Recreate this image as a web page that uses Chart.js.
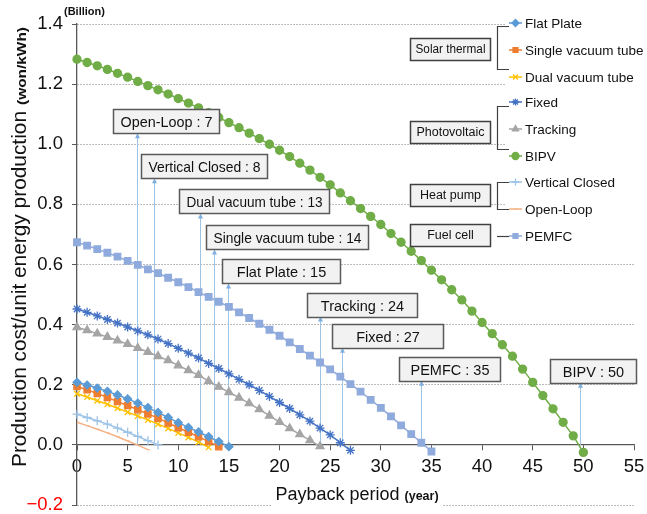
<!DOCTYPE html>
<html><head><meta charset="utf-8">
<script src="https://cdn.jsdelivr.net/npm/chart.js@4.4.0/dist/chart.umd.min.js"></script>
<style>html,body{margin:0;padding:0;background:#fff;}#wrap{width:647px;height:514px;}</style>
</head><body><div id="wrap"><canvas id="c" width="647" height="514"></canvas></div>
<script>
// ---- data ----
const seriesNames = ['Flat Plate','Single vacuum tube','Dual vacuum tube','Fixed','Tracking','BIPV','Vertical Closed','Open-Loop','PEMFC'];
const flatPlate = [0.208,0.199,0.189,0.178,0.166,0.153,0.139,0.124,0.108,0.091,0.074,0.058,0.043,0.027,0.011,-0.006];
const singleVac = [0.194,0.183,0.171,0.158,0.144,0.131,0.117,0.103,0.089,0.073,0.057,0.042,0.027,0.011,-0.006];
const dualVac = [0.170,0.159,0.147,0.135,0.122,0.109,0.096,0.083,0.069,0.055,0.040,0.025,0.009,-0.008];
const fixedPV = [0.452,0.441,0.429,0.417,0.405,0.392,0.379,0.366,0.352,0.337,0.321,0.305,0.289,0.271,0.254,0.236,0.218,0.200,0.181,0.161,0.141,0.121,0.100,0.079,0.056,0.033,0.007,-0.018];
const trackingPV = [0.391,0.381,0.370,0.359,0.347,0.335,0.322,0.309,0.295,0.281,0.264,0.248,0.232,0.212,0.193,0.175,0.157,0.138,0.118,0.097,0.076,0.055,0.035,0.015,-0.005];
const bipv = [1.283,1.272,1.261,1.249,1.236,1.223,1.209,1.195,1.181,1.167,1.152,1.137,1.121,1.105,1.089,1.072,1.055,1.037,1.019,1.000,0.980,0.959,0.937,0.914,0.890,0.865,0.838,0.812,0.786,0.760,0.733,0.703,0.674,0.644,0.613,0.581,0.549,0.516,0.482,0.445,0.407,0.370,0.333,0.295,0.252,0.208,0.164,0.120,0.075,0.030,-0.025];
const verticalClosed = [0.102,0.091,0.080,0.069,0.056,0.042,0.028,0.014,0.000];
const openLoop = [0.075,0.064,0.052,0.040,0.027,0.013,-0.001,-0.016];
const pemfc = [0.674,0.663,0.651,0.639,0.626,0.612,0.599,0.584,0.571,0.556,0.541,0.525,0.508,0.492,0.476,0.459,0.441,0.422,0.403,0.383,0.363,0.341,0.319,0.297,0.274,0.251,0.227,0.202,0.177,0.150,0.123,0.095,0.065,0.036,0.007,-0.022];
const xTicks = [0,5,10,15,20,25,30,35,40,45,50,55];
const yTicks = [-0.2,0,0.2,0.4,0.6,0.8,1.0,1.2,1.4];
// callouts: text, year where the arrow stands, value at arrow tip
const calloutText = ['Open-Loop : 7','Vertical Closed : 8','Dual vacuum tube : 13','Single vacuum tube : 14','Flat Plate : 15','Tracking : 24','Fixed : 27','PEMFC : 35','BIPV : 50'];
const calloutYear = [5.9,7.6,12.15,13.55,14.9,24.0,26.2,34.0,49.7];
const calloutTip = [1.037,0.887,0.770,0.650,0.537,0.427,0.323,0.213,0.207];
const groupNames = ['Solar thermal','Photovoltaic','Heat pump','Fuel cell'];

// ---- styles ----
const seriesColors = ['#5B9BD5','#ED7D31','#FFC000','#4472C4','#A5A5A5','#70AD47','#9DC3E6','#F4B183','#8FAADC'];
const seriesPoint = ['rectRot','rect','crossRot','star','triangle','circle','cross','dash','rect'];
const seriesRadius = [4,4.4,4,4.5,4.6,4,4.5,2,4.6];
const FONT = "'Liberation Sans', Arial, sans-serif";
// callout box geometry (px): offset of box left from arrow, width
const calloutBox = [[24,106],[13,126],[21,150],[8,162],[6,118],[13,110],[10,111],[22,101],[30,86]];
const legendRowsY = [23,50,77,102,129,156,182,209,236];
const groupBoxes = [{y:38,b:[26,69]},{y:121,b:[106,149]},{y:184,b:[182,209]},{y:224,b:null}];

const seriesData = [flatPlate,singleVac,dualVac,fixedPV,trackingPV,bipv,verticalClosed,openLoop,pemfc];
const datasets = seriesData.map((arr,i)=>({
  label: seriesNames[i],
  data: arr.map((v,k)=>({x:k,y:v})),
  borderColor: seriesColors[i], backgroundColor: seriesColors[i],
  borderWidth: 1.5, pointStyle: seriesPoint[i], pointRadius: seriesRadius[i],
  pointBorderWidth: 1.3, tension: 0, clip: false
}));

function drawMarker(ctx, style, r, x, y, color){
  ctx.save();
  ctx.fillStyle = color; ctx.strokeStyle = color; ctx.lineWidth = 1.3;
  if (Chart.helpers && Chart.helpers.drawPoint) {
    Chart.helpers.drawPoint(ctx, {pointStyle: style, radius: r, borderWidth: 1.3, rotation: 0}, x, y);
  } else {
    ctx.beginPath(); ctx.arc(x,y,r,0,Math.PI*2); ctx.fill();
  }
  ctx.restore();
}

function fitText(ctx, text, x, y, target){
  const w = ctx.measureText(text).width;
  ctx.save(); ctx.translate(x, y); ctx.scale(target / w, 1);
  ctx.fillText(text, 0, 0); ctx.restore();
}

const overlay = {
  id: 'overlay',
  beforeDatasetsDraw(chart){
    const ctx = chart.ctx, xs = chart.scales.x, ys = chart.scales.y;
    ctx.save();
    ctx.strokeStyle = '#9DC3E6'; ctx.fillStyle = '#7FAFE0'; ctx.lineWidth = 1;
    calloutYear.forEach((yr,i)=>{
      const px = Math.round(xs.getPixelForValue(yr)) + 0.5;
      const y0 = ys.getPixelForValue(0), y1 = ys.getPixelForValue(calloutTip[i]);
      ctx.beginPath(); ctx.moveTo(px, y0); ctx.lineTo(px, y1 + 4); ctx.stroke();
      ctx.beginPath(); ctx.moveTo(px, y1); ctx.lineTo(px-2.5, y1+5); ctx.lineTo(px+2.5, y1+5); ctx.closePath(); ctx.fill();
    });
    ctx.restore();
  },
  afterDatasetsDraw(chart){
    const ctx = chart.ctx, xs = chart.scales.x, ys = chart.scales.y;
    ctx.save();
    calloutText.forEach((t,i)=>{
      const px = xs.getPixelForValue(calloutYear[i]);
      const tip = ys.getPixelForValue(calloutTip[i]);
      const [dx,w] = calloutBox[i];
      const left = Math.round(px - dx) + 0.5, h = 24, top = Math.round(tip - h) + 0.5;
      ctx.fillStyle = '#F2F2F2'; ctx.fillRect(left, top, w, h);
      ctx.strokeStyle = '#595959'; ctx.lineWidth = 1.5; ctx.strokeRect(left, top, w, h);
      ctx.fillStyle = '#111'; ctx.font = '14.5px ' + FONT; ctx.textAlign = 'center'; ctx.textBaseline = 'middle';
      ctx.fillText(t, left + w/2, top + h/2 + 1, w - 14);
    });
    ctx.restore();
  },
  afterDraw(chart){
    const ctx = chart.ctx;
    ctx.save();
    // legend background
    ctx.fillStyle = '#fff'; ctx.fillRect(506, 10, 141, 240);
    // legend rows
    seriesNames.forEach((n,i)=>{
      const y = legendRowsY[i];
      ctx.strokeStyle = seriesColors[i]; ctx.lineWidth = 1.5;
      ctx.beginPath(); ctx.moveTo(509, y); ctx.lineTo(522, y); ctx.stroke();
      drawMarker(ctx, seriesPoint[i], Math.min(seriesRadius[i],3.5), 515.5, y, seriesColors[i]);
      ctx.fillStyle = '#111'; ctx.font = '13.5px ' + FONT; ctx.textAlign = 'left'; ctx.textBaseline = 'middle';
      ctx.fillText(n, 525, y + 1);
    });
    // group boxes + brackets
    groupBoxes.forEach((g,i)=>{
      ctx.fillStyle = '#F2F2F2'; ctx.fillRect(410.5, g.y + 0.5, 80, 22);
      ctx.strokeStyle = '#404040'; ctx.lineWidth = 1.5; ctx.strokeRect(410.5, g.y + 0.5, 80, 22);
      ctx.fillStyle = '#111'; ctx.font = '12.5px ' + FONT; ctx.textAlign = 'center'; ctx.textBaseline = 'middle';
      ctx.fillText(groupNames[i], 450.5, g.y + 12, 70);
      ctx.strokeStyle = '#404040'; ctx.lineWidth = 1.2;
      ctx.beginPath();
      if (g.b) {
        ctx.moveTo(509, g.b[0] + 0.5); ctx.lineTo(497.5, g.b[0] + 0.5); ctx.lineTo(497.5, g.b[1] + 0.5); ctx.lineTo(509, g.b[1] + 0.5);
      } else {
        ctx.moveTo(497, 236.5); ctx.lineTo(509, 236.5);
      }
      ctx.stroke();
    });
    // (Billion)
    ctx.fillStyle = '#111'; ctx.font = 'bold 11px ' + FONT; ctx.textAlign = 'left'; ctx.textBaseline = 'middle';
    ctx.fillText('(Billion)', 64, 12);
    // y title
    ctx.save();
    ctx.translate(21, 467); ctx.rotate(-Math.PI/2);
    ctx.textAlign = 'left'; ctx.textBaseline = 'middle';
    ctx.font = '19.5px ' + FONT;
    fitText(ctx, 'Production cost/unit energy production', 0, 0, 356);
    ctx.font = 'bold 13.5px ' + FONT;
    fitText(ctx, '(won/kWh)', 362, 1, 78);
    ctx.restore();
    // x title
    ctx.font = '18px ' + FONT;
    const a = 'Payback period ';
    const wa = ctx.measureText(a).width;
    ctx.font = 'bold 12.5px ' + FONT;
    const wb = ctx.measureText('(year)').width;
    const startX = 357 - (wa + wb)/2;
    ctx.fillStyle = '#fff'; ctx.fillRect(startX - 4, 484, wa + wb + 8, 22);
    ctx.fillStyle = '#111'; ctx.textAlign = 'left'; ctx.textBaseline = 'middle';
    ctx.font = '18px ' + FONT; ctx.fillText(a, startX, 495);
    ctx.font = 'bold 12.5px ' + FONT; ctx.fillText('(year)', startX + wa, 497);
    ctx.restore();
  }
};

new Chart(document.getElementById('c'), {
  type: 'line',
  data: { datasets },
  options: {
    responsive: false, animation: false, devicePixelRatio: 1,
    layout: { padding: { left: 0, top: 24, right: 13, bottom: 9 } },
    plugins: { legend: { display: false }, tooltip: { enabled: false } },
    elements: { line: { fill: false } },
    scales: {
      x: {
        type: 'linear', position: { y: 0 }, min: 0, max: 55,
        afterBuildTicks: s => { s.ticks = xTicks.map(v => ({value: v})); },
        afterFit: s => { s.paddingLeft = 0; s.paddingRight = 0; },
        ticks: { font: { size: 18.5, family: FONT }, color: '#111', padding: 6, maxRotation: 0 },
        grid: { drawOnChartArea: false, drawTicks: true, tickLength: 5, tickColor: '#595959', tickWidth: 1 },
        border: { display: true, color: '#595959', width: 1.3 }
      },
      y: {
        type: 'linear', position: 'left', min: -0.2, max: 1.4,
        afterBuildTicks: s => { s.ticks = yTicks.map(v => ({value: v})); },
        afterFit: s => { s.width = 77; s.paddingTop = 0; s.paddingBottom = 0; },
        ticks: {
          font: { size: 18.5, family: FONT }, padding: 9,
          color: c => (c.tick && c.tick.value < 0) ? '#FF0000' : '#111',
          callback: v => (v < 0 ? '\u2212' + Math.abs(v).toFixed(1) : v.toFixed(1))
        },
        grid: {
          color: c => (c.tick && Math.abs(c.tick.value) < 1e-9) ? 'rgba(0,0,0,0)' : '#A6A6A6',
          lineWidth: 1, drawTicks: true, tickLength: 5, tickColor: '#595959', tickWidth: 1
        },
        border: { display: true, color: '#595959', width: 1.3, dash: [1.5, 1.5] }
      }
    }
  },
  plugins: [overlay]
});
</script>
</body></html>
